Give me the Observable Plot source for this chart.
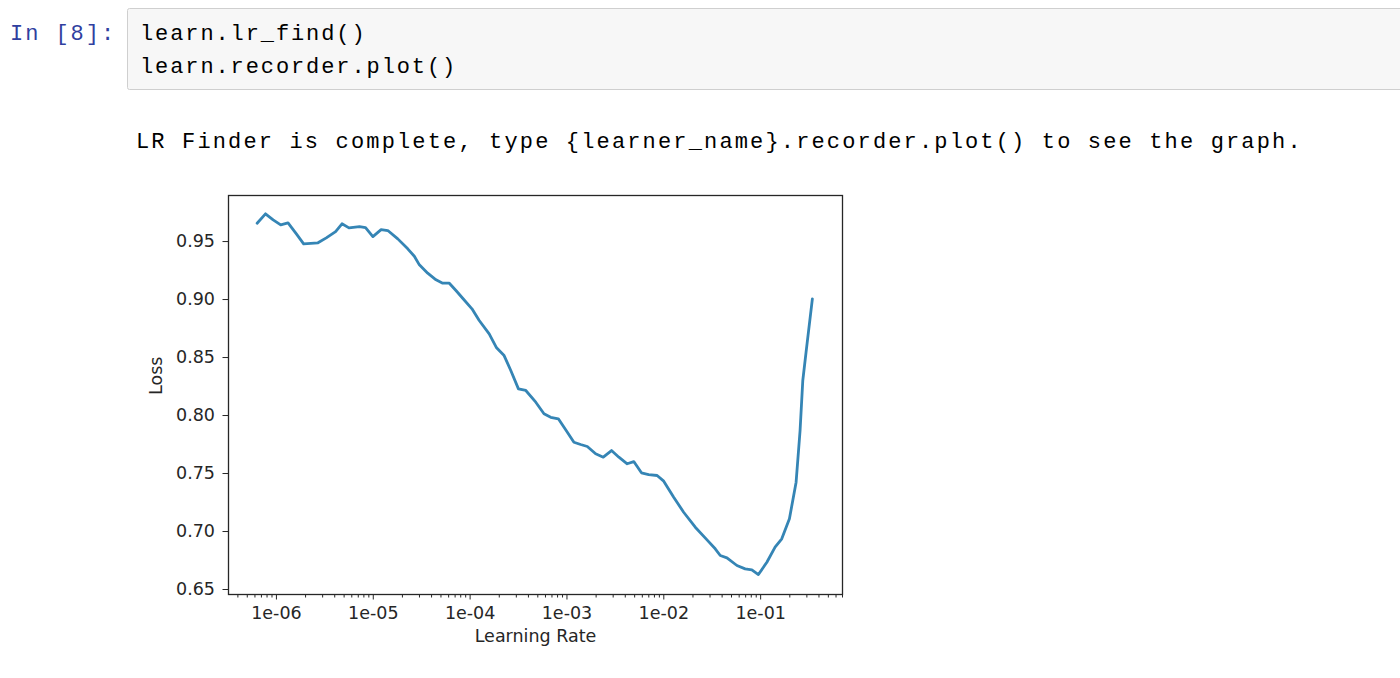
<!DOCTYPE html>
<html>
<head>
<meta charset="utf-8">
<script src="https://cdn.jsdelivr.net/npm/d3@7"></script>
<script src="https://cdn.jsdelivr.net/npm/@observablehq/plot@0.6"></script>
<style>
  html, body { margin: 0; padding: 0; background: #fff; width: 1400px; height: 678px; overflow: hidden; }
  #chrome { position: absolute; left: 0; top: 0; }
  #chart { position: absolute; left: 130px; top: 170px; }
  .mono { font-family: "Liberation Mono", "DejaVu Sans Mono", monospace; font-size: 22px; }
</style>
</head>
<body>
<svg id="chrome" width="1400" height="678">
  <rect x="127.5" y="8.5" width="1320" height="81" rx="2" fill="#f7f7f7" stroke="#cfcfcf" stroke-width="1"></rect>
  <text class="mono" x="10" y="40" fill="#303F9F" style="letter-spacing:1.95px">In [8]:</text>
  <text class="mono" x="140" y="40" fill="#000" style="letter-spacing:1.9px">learn.lr_find()</text>
  <text class="mono" x="140" y="73" fill="#000" style="letter-spacing:1.9px">learn.recorder.plot()</text>
  <text class="mono" x="136" y="147.5" fill="#000" style="letter-spacing:2.15px">LR Finder is complete, type {learner_name}.recorder.plot() to see the graph.</text>
</svg>
<div id="chart"></div>
<script>
// Learning rates (x)
const lr = [
  6.32e-7, 7.71e-7, 9.25e-7, 1.107e-6, 1.318e-6, 1.607e-6, 1.910e-6, 2.685e-6, 3.273e-6, 4.083e-6,
  4.753e-6, 5.61e-6, 7.21e-6, 8.32e-6, 9.91e-6, 1.205e-5, 1.413e-5, 1.791e-5, 2.270e-5, 2.655e-5,
  2.992e-5, 3.648e-5, 4.446e-5, 5.21e-5, 6.10e-5, 7.14e-5, 8.38e-5, 1.045e-4, 1.242e-4, 1.574e-4,
  1.875e-4, 2.244e-4, 2.630e-4, 3.155e-4, 3.758e-4, 4.764e-4, 5.79e-4, 6.79e-4, 8.15e-4, 9.70e-4,
  1.180e-3, 1.384e-3, 1.622e-3, 1.977e-3, 2.371e-3, 2.884e-3, 3.436e-3, 4.188e-3, 4.898e-3, 5.875e-3,
  6.98e-3, 8.53e-3, 9.98e-3, 1.265e-2, 1.603e-2, 2.113e-2, 2.793e-2, 3.396e-2, 3.828e-2, 4.487e-2,
  5.689e-2, 6.918e-2, 8.11e-2, 9.48e-2, 0.1159, 0.1409, 0.1652, 0.1982, 0.2323, 0.2553,
  0.2723, 0.2944, 0.3420
];
// Loss (y)
const loss = [
  0.9658, 0.9739, 0.9687, 0.9644, 0.9661, 0.9566, 0.9480, 0.9489, 0.9532, 0.9586,
  0.9653, 0.9618, 0.9629, 0.9621, 0.9543, 0.9603, 0.9595, 0.9523, 0.9437, 0.9373,
  0.9299, 0.9227, 0.9170, 0.9141, 0.9141, 0.9078, 0.9011, 0.8920, 0.8819, 0.8704,
  0.8584, 0.8517, 0.8388, 0.8230, 0.8216, 0.8115, 0.8015, 0.7985, 0.7972, 0.7877,
  0.7770, 0.7750, 0.7733, 0.7670, 0.7641, 0.7698, 0.7641, 0.7584, 0.7603, 0.7506,
  0.7491, 0.7483, 0.7434, 0.7296, 0.7166, 0.7037, 0.6928, 0.6851, 0.6793, 0.6773,
  0.6707, 0.6678, 0.6670, 0.6629, 0.6735, 0.6865, 0.6937, 0.7110, 0.7425, 0.7871,
  0.8302, 0.8546, 0.9006
];
const xTicks = [1e-6, 1e-5, 1e-4, 1e-3, 1e-2, 1e-1];
const yTicks = [0.65, 0.70, 0.75, 0.80, 0.85, 0.90, 0.95];
const xLabel = "Learning Rate";
const yLabel = "Loss";

const xDomain = [3.2e-7, 0.70];
const yDomain = [0.6457, 0.9897];

const data = lr.map((v, i) => ({lr: v, loss: loss[i]}));
const minorTicks = d3.scaleLog().domain(xDomain).ticks().filter(v => !xTicks.some(t => Math.abs(t - v) / t < 1e-9));
const fmtX = d => {
  const e = Math.round(Math.log10(d));
  return "1e" + (e < 0 ? "-" : "+") + String(Math.abs(e)).padStart(2, "0");
};

const chart = Plot.plot({
  width: 732,
  height: 504,
  marginLeft: 98,
  marginTop: 25,
  marginRight: 20,
  marginBottom: 80,
  style: {fontFamily: "'DejaVu Sans', sans-serif", fontSize: "17.5px", color: "#262626", background: "transparent", overflow: "visible"},
  x: {type: "log", domain: xDomain},
  y: {domain: yDomain},
  marks: [
    Plot.axisY(yTicks, {tickSize: 5.5, tickPadding: 8, tickFormat: d3.format(".2f"), label: null}),
    Plot.axisX(minorTicks, {tickSize: 3.5, tickFormat: () => "", label: null}),
    Plot.axisX(xTicks, {tickSize: 5.5, tickPadding: 6.5, tickFormat: fmtX, label: null}),
    Plot.line(data, {x: "lr", y: "loss", stroke: "#3585b5", strokeWidth: 2.8}),
    Plot.frame({stroke: "#262626", strokeWidth: 1.3}),
    Plot.text([xLabel], {text: d => d, frameAnchor: "bottom", dy: 47, fill: "#262626"}),
    Plot.text([yLabel], {text: d => d, frameAnchor: "left", dx: -72, rotate: -90, fill: "#262626"})
  ]
});
document.getElementById("chart").appendChild(chart);
</script>
</body>
</html>
